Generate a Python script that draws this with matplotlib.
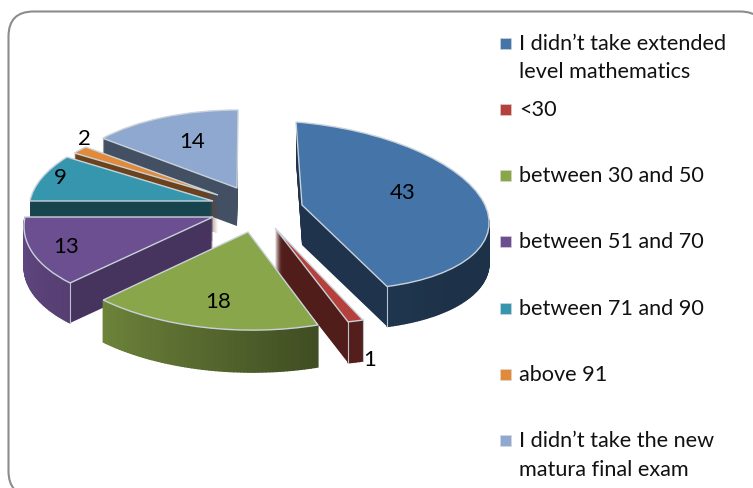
import numpy as np
import matplotlib
matplotlib.use("Agg")
import matplotlib.pyplot as plt
from matplotlib.patches import Wedge, Polygon, Rectangle, FancyBboxPatch
from matplotlib.transforms import Affine2D
from matplotlib.colors import to_rgb

plt.rcParams['font.family'] = ['Lato', 'DejaVu Sans']

categories = ["I didn\u2019t take extended\nlevel mathematics", "<30", "between 30 and 50",
              "between 51 and 70", "between 71 and 90", "above 91",
              "I didn\u2019t take the new\nmatura final exam"]
values = [43, 1, 18, 13, 9, 2, 14]

colors = ["#4474A8", "#B5403C", "#8AA64A", "#6C4F90", "#3596AE", "#E08A3A", "#8EA8D0"]
apex_x = [302, 275, 248, 213, 213, 218, 237]
apex_y = [205, 228, 232, 217, 201, 195, 188]
radius_x = [187, 249, 205, 188, 183, 165, 175]
radius_y = [83, 97, 98, 90.5, 82, 65, 78]
shear_x = [6, -20, -6, -19.5, -15.8, 8, -1]
shear_y = [15, 10, 5, 0, 0, 8.4, 0]
depth = [40, 41, 42, 40, 40, 38, 38]
wall_shade = [0.45, 0.45, 0.45, 0.65, 0.45, 0.48, 0.47]
draw_order = [6, 5, 4, 3, 0, 1, 2]
label_x = [403, 370, 218, 66, 60, 84, 192]
label_y = [193, 360, 302, 247, 178, 139, 142]

fig = plt.figure(figsize=(7.53, 4.88), dpi=100)
ax = fig.add_axes([0, 0, 1, 1])
ax.set_xlim(0, 753)
ax.set_ylim(488, 0)
ax.axis("off")

ax.add_patch(FancyBboxPatch((8.5, 11.5), 756.5, 484.5, boxstyle="round,pad=0,rounding_size=25",
                            fc="white", ec="#8C8C8C", lw=1.5, zorder=0))


def shade(c, f):
    return tuple(min(1, v * f) for v in to_rgb(c))


fractions = np.cumsum([0] + values) / sum(values) * 360.0
z = 1
for i in draw_order:
    a, b = fractions[i], fractions[i + 1]
    cx, cy, rx, ry, sx, sy, d = (apex_x[i], apex_y[i], radius_x[i], radius_y[i],
                                 shear_x[i], shear_y[i], depth[i])

    def tr(off):
        return Affine2D.from_values(rx, sy, sx, ry, cx, cy + off) + ax.transData

    def rim(phi):
        u, v = np.sin(np.radians(phi)), -np.cos(np.radians(phi))
        return cx + rx * u + sx * v, cy + ry * v + sy * u

    # extruded body
    for off in range(d, 0, -1):
        ax.add_patch(Wedge((0, 0), 1, a - 90, b - 90, transform=tr(off),
                           fc=shade(colors[i], wall_shade[i]), ec="none", zorder=z))
    z += 1
    # shaded outer wall on the front-facing arc
    lo, hi = max(a, 90), min(b, 270)
    if hi > lo:
        phis = np.linspace(lo, hi, int(hi - lo) + 2)
        for p0, p1 in zip(phis[:-1], phis[1:]):
            x0, y0 = rim(p0)
            x1, y1 = rim(p1)
            f = np.interp((p0 + p1) / 2, [130, 160, 225, 270], [0.43, 0.47, 0.8, 0.9])
            col = shade(colors[i], f)
            ax.add_patch(Polygon([(x0, y0), (x1, y1), (x1, y1 + d), (x0, y0 + d)],
                                 fc=col, ec=col, lw=1.0, zorder=z))
            z += 0.001
        z += 1
    # vertical highlight at the front corners
    for phi in (a, b):
        if 90 < phi < 270 and values[i] != 18:
            px, py = rim(phi)
            ax.plot([px, px], [py, py + d], color="#B8C4CE", lw=0.8, zorder=z)
    # top face
    ax.add_patch(Wedge((0, 0), 1, a - 90, b - 90, transform=tr(0),
                       fc=colors[i], ec="#C9D2DA", lw=1.0, zorder=z))
    z += 1

for x, y, v in zip(label_x, label_y, values):
    ax.text(x, y, str(v), ha="center", va="center", fontsize=16, color="black", zorder=z)

legend_x, legend_y, legend_step = 506, 43, 66.3
for i, (name, col) in enumerate(zip(categories, colors)):
    y = legend_y + legend_step * i
    ax.add_patch(Rectangle((legend_x - 5.5, y - 5.5), 11, 11, fc=col, ec="#D8D8D8", lw=0.4, zorder=z))
    ax.text(legend_x + 13, y - 9.5, name, ha="left", va="top", fontsize=15.6,
            color="#111111", linespacing=1.55, zorder=z)

fig.savefig("out.png", dpi=100)
